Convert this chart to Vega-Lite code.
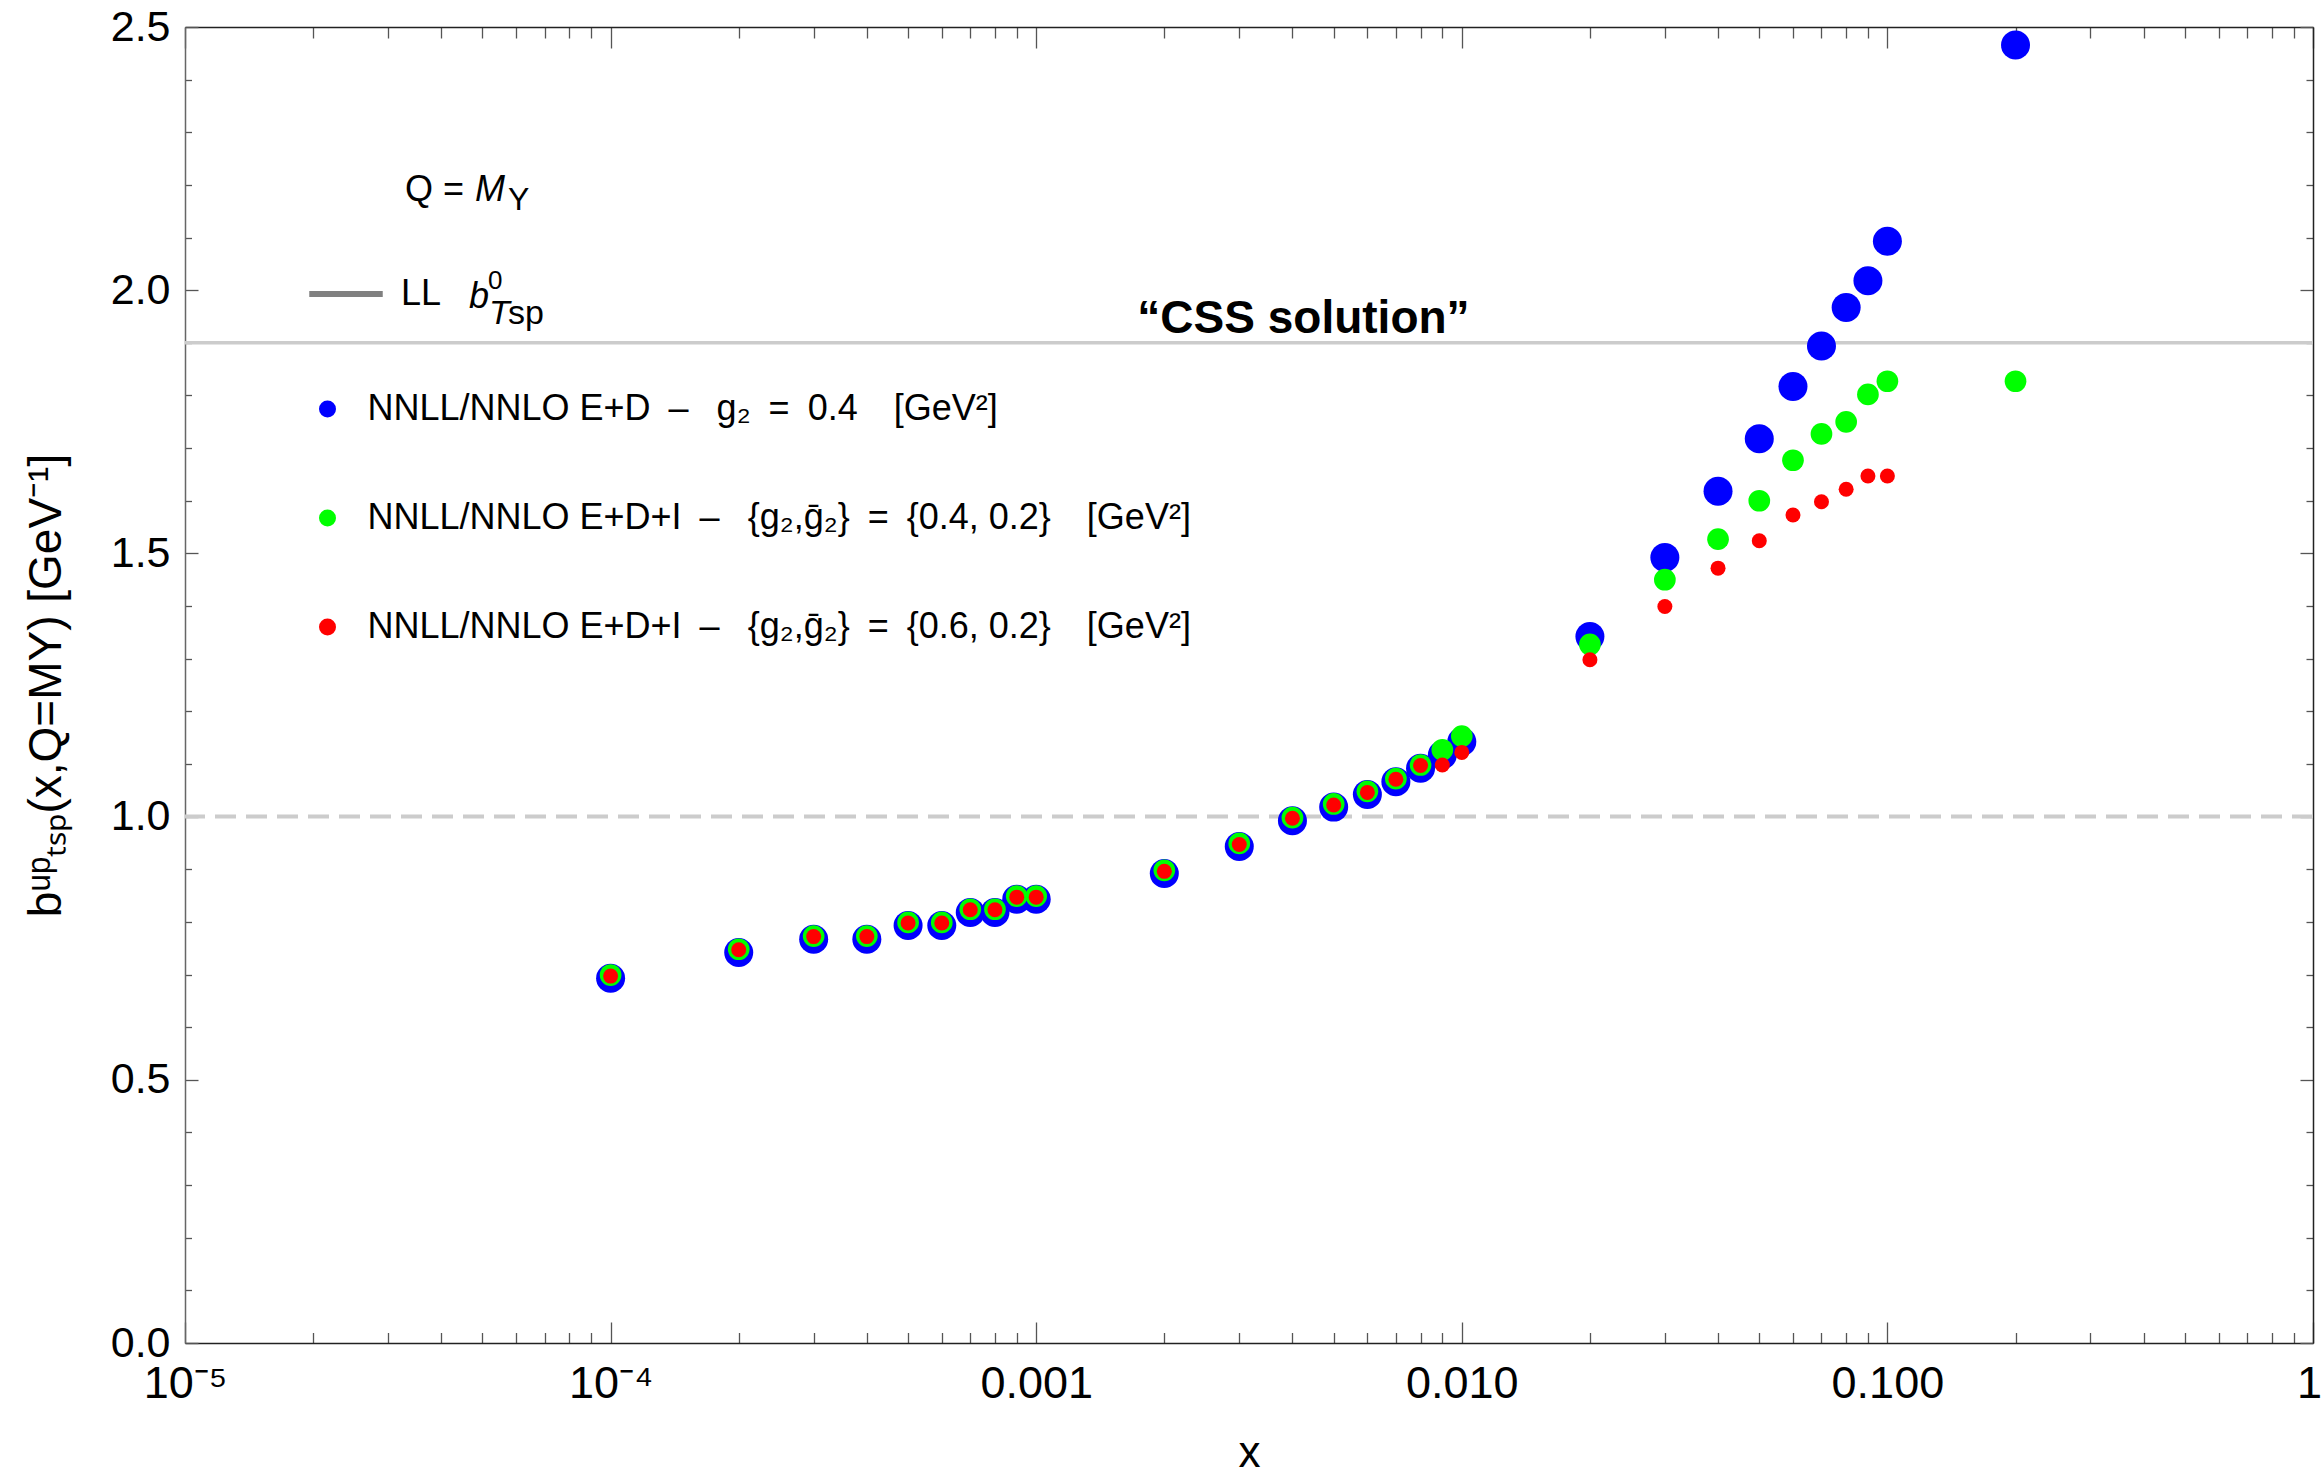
{
  "$schema": "https://vega.github.io/schema/vega-lite/v6.json",
  "width": 2128,
  "height": 1316,
  "autosize": {"type": "none"},
  "padding": {"left": 185, "top": 27, "right": 9, "bottom": 138},
  "background": "white",
  "config": {
    "view": {"stroke": null},
    "font": "Liberation Sans",
    "axis": {"grid": false, "domainColor": "#222", "domainWidth": 1.5, "tickColor": "#555", "tickWidth": 1.3, "labelFont": "Liberation Sans", "titleFont": "Liberation Sans", "labelColor": "#000", "titleColor": "#000", "titleFontWeight": "normal"},
    "legend": {"labelFont": "Liberation Sans", "labelColor": "#000", "padding": 0, "labelLimit": 0}
  },
  "datasets": {
    "pts": [
      {"x": 0.0001, "b": 0.693, "series": "ED"}, {"x": 0.0002, "b": 0.742, "series": "ED"}, {"x": 0.0003, "b": 0.767, "series": "ED"}, {"x": 0.0004, "b": 0.767, "series": "ED"}, {"x": 0.0005, "b": 0.793, "series": "ED"}, {"x": 0.0006, "b": 0.793, "series": "ED"}, {"x": 0.0007, "b": 0.818, "series": "ED"}, {"x": 0.0008, "b": 0.818, "series": "ED"}, {"x": 0.0009, "b": 0.843, "series": "ED"}, {"x": 0.001, "b": 0.843, "series": "ED"},
      {"x": 0.002, "b": 0.892, "series": "ED"}, {"x": 0.003, "b": 0.943, "series": "ED"}, {"x": 0.004, "b": 0.992, "series": "ED"}, {"x": 0.005, "b": 1.018, "series": "ED"}, {"x": 0.006, "b": 1.042, "series": "ED"}, {"x": 0.007, "b": 1.066, "series": "ED"}, {"x": 0.008, "b": 1.092, "series": "ED"}, {"x": 0.009, "b": 1.117, "series": "ED"}, {"x": 0.01, "b": 1.142, "series": "ED"},
      {"x": 0.02, "b": 1.342, "series": "ED"}, {"x": 0.03, "b": 1.492, "series": "ED"}, {"x": 0.04, "b": 1.618, "series": "ED"}, {"x": 0.05, "b": 1.718, "series": "ED"}, {"x": 0.06, "b": 1.817, "series": "ED"}, {"x": 0.07, "b": 1.894, "series": "ED"}, {"x": 0.08, "b": 1.967, "series": "ED"}, {"x": 0.09, "b": 2.018, "series": "ED"}, {"x": 0.1, "b": 2.093, "series": "ED"}, {"x": 0.2, "b": 2.466, "series": "ED"},
      {"x": 0.0001, "b": 0.699, "series": "EDI1"}, {"x": 0.0002, "b": 0.748, "series": "EDI1"}, {"x": 0.0003, "b": 0.773, "series": "EDI1"}, {"x": 0.0004, "b": 0.773, "series": "EDI1"}, {"x": 0.0005, "b": 0.799, "series": "EDI1"}, {"x": 0.0006, "b": 0.799, "series": "EDI1"}, {"x": 0.0007, "b": 0.824, "series": "EDI1"}, {"x": 0.0008, "b": 0.824, "series": "EDI1"}, {"x": 0.0009, "b": 0.849, "series": "EDI1"}, {"x": 0.001, "b": 0.849, "series": "EDI1"},
      {"x": 0.002, "b": 0.898, "series": "EDI1"}, {"x": 0.003, "b": 0.949, "series": "EDI1"}, {"x": 0.004, "b": 0.998, "series": "EDI1"}, {"x": 0.005, "b": 1.024, "series": "EDI1"}, {"x": 0.006, "b": 1.048, "series": "EDI1"}, {"x": 0.007, "b": 1.072, "series": "EDI1"}, {"x": 0.008, "b": 1.098, "series": "EDI1"}, {"x": 0.009, "b": 1.127, "series": "EDI1"}, {"x": 0.01, "b": 1.153, "series": "EDI1"},
      {"x": 0.02, "b": 1.327, "series": "EDI1"}, {"x": 0.03, "b": 1.450, "series": "EDI1"}, {"x": 0.04, "b": 1.527, "series": "EDI1"}, {"x": 0.05, "b": 1.600, "series": "EDI1"}, {"x": 0.06, "b": 1.677, "series": "EDI1"}, {"x": 0.07, "b": 1.727, "series": "EDI1"}, {"x": 0.08, "b": 1.750, "series": "EDI1"}, {"x": 0.09, "b": 1.802, "series": "EDI1"}, {"x": 0.1, "b": 1.827, "series": "EDI1"}, {"x": 0.2, "b": 1.827, "series": "EDI1"},
      {"x": 0.0001, "b": 0.697, "series": "EDI2"}, {"x": 0.0002, "b": 0.747, "series": "EDI2"}, {"x": 0.0003, "b": 0.772, "series": "EDI2"}, {"x": 0.0004, "b": 0.772, "series": "EDI2"}, {"x": 0.0005, "b": 0.798, "series": "EDI2"}, {"x": 0.0006, "b": 0.798, "series": "EDI2"}, {"x": 0.0007, "b": 0.823, "series": "EDI2"}, {"x": 0.0008, "b": 0.823, "series": "EDI2"}, {"x": 0.0009, "b": 0.847, "series": "EDI2"}, {"x": 0.001, "b": 0.847, "series": "EDI2"},
      {"x": 0.002, "b": 0.896, "series": "EDI2"}, {"x": 0.003, "b": 0.947, "series": "EDI2"}, {"x": 0.004, "b": 0.997, "series": "EDI2"}, {"x": 0.005, "b": 1.022, "series": "EDI2"}, {"x": 0.006, "b": 1.046, "series": "EDI2"}, {"x": 0.007, "b": 1.071, "series": "EDI2"}, {"x": 0.008, "b": 1.097, "series": "EDI2"}, {"x": 0.009, "b": 1.098, "series": "EDI2"}, {"x": 0.01, "b": 1.122, "series": "EDI2"},
      {"x": 0.02, "b": 1.298, "series": "EDI2"}, {"x": 0.03, "b": 1.399, "series": "EDI2"}, {"x": 0.04, "b": 1.472, "series": "EDI2"}, {"x": 0.05, "b": 1.524, "series": "EDI2"}, {"x": 0.06, "b": 1.573, "series": "EDI2"}, {"x": 0.07, "b": 1.598, "series": "EDI2"}, {"x": 0.08, "b": 1.622, "series": "EDI2"}, {"x": 0.09, "b": 1.647, "series": "EDI2"}, {"x": 0.1, "b": 1.647, "series": "EDI2"}
    ],
    "ann": [
      {"id": "q", "x": 0.0000329, "y": 2.170, "t": "Q ="},
      {"id": "m", "x": 0.0000329, "y": 2.170, "t": "M"},
      {"id": "u", "x": 0.0000329, "y": 2.170, "t": "Υ"},
      {"id": "b", "x": 0.0000329, "y": 1.967, "t": "b"},
      {"id": "z", "x": 0.0000329, "y": 1.967, "t": "0"},
      {"id": "T", "x": 0.0000329, "y": 1.967, "t": "T"},
      {"id": "sp", "x": 0.0000329, "y": 1.967, "t": "sp"},
      {"id": "css", "x": 0.004246, "y": 1.919, "t": "“CSS solution”"}
    ]
  },
  "layer": [
    {
      "data": {"values": [{"y": 1.0}]},
      "mark": {"type": "rule", "stroke": "#cccccc", "strokeWidth": 4, "strokeDash": [21, 10]},
      "encoding": {"y": {"field": "y", "type": "quantitative", "scale": {"domain": [0, 2.5], "nice": false, "zero": false}, "axis": null}}
    },
    {
      "data": {"values": [{"y": 1.9}]},
      "mark": {"type": "rule", "stroke": "#cccccc", "strokeWidth": 3.5},
      "encoding": {
        "y": {"field": "y", "type": "quantitative", "scale": {"domain": [0, 2.5], "nice": false, "zero": false}, "axis": null}
      }
    },
    {
      "data": {"values": [{"y": 1.9, "x": 0.001, "line": "LL"}]},
      "mark": {"type": "rule", "strokeWidth": 6, "strokeCap": "butt"},
      "encoding": {
        "x": {"field": "x", "type": "quantitative", "scale": {"type": "log", "domain": [0.00001, 1], "nice": false}, "axis": null},
        "x2": {"field": "x"},
        "y": {"field": "y", "type": "quantitative", "scale": {"domain": [0, 2.5], "nice": false, "zero": false}, "axis": null},
        "stroke": {"field": "line", "type": "nominal", "scale": {"range": ["#808080"]},
          "legend": {"title": null, "orient": "none", "legendX": 121, "legendY": 227, "symbolType": "stroke", "symbolSize": 5400, "symbolStrokeWidth": 6, "labelFontSize": 36, "labelOffset": 15, "padding": 0}}
      }
    },
    {
      "data": {"name": "pts"},
      "encoding": {
        "x": {"field": "x", "type": "quantitative", "scale": {"type": "log", "domain": [0.00001, 1], "nice": false},
          "axis": {"orient": "bottom",
            "values": [0.00001,0.00002,0.00003,0.00004,0.00005,0.00006,0.00007,0.00008,0.00009,0.0001,0.0002,0.0003,0.0004,0.0005,0.0006,0.0007,0.0008,0.0009,0.001,0.002,0.003,0.004,0.005,0.006,0.007,0.008,0.009,0.01,0.02,0.03,0.04,0.05,0.06,0.07,0.08,0.09,0.1,0.2,0.3,0.4,0.5,0.6,0.7,0.8,0.9,1],
            "labelExpr": "abs(datum.value-0.00001)<1e-8 ? '10⁻⁵' : abs(datum.value-0.0001)<1e-8 ? '10⁻⁴' : abs(datum.value-0.001)<1e-7 ? '0.001' : abs(datum.value-0.01)<1e-6 ? '0.010' : abs(datum.value-0.1)<1e-5 ? '0.100' : abs(datum.value-1)<1e-4 ? '1' : ''",
            "labelFontSize": 45, "labelPadding": 39, "labelFlush": false, "labelOverlap": false,
            "labelOffset": {"condition": {"test": "datum.value > 0.95", "value": -4}, "value": 0},
            "tickSize": {"condition": {"test": "abs(log(datum.value)/LN10 - round(log(datum.value)/LN10)) < 0.01", "value": -21}, "value": -10.5},
            "title": "x", "titleFontSize": 44, "titlePadding": 15, "domainColor": "#222"}},
        "y": {"field": "b", "type": "quantitative", "scale": {"domain": [0, 2.5], "nice": false, "zero": false},
          "axis": {"orient": "left",
            "values": [0,0.1,0.2,0.3,0.4,0.5,0.6,0.7,0.8,0.9,1,1.1,1.2,1.3,1.4,1.5,1.6,1.7,1.8,1.9,2,2.1,2.2,2.3,2.4,2.5],
            "labelExpr": "abs(datum.value*2 - round(datum.value*2)) < 0.01 ? format(datum.value, '.1f') : ''",
            "labelFontSize": 43, "labelPadding": 28, "labelFlush": false, "labelOverlap": false,
            "tickSize": {"condition": {"test": "abs(datum.value*2 - round(datum.value*2)) < 0.01", "value": -13}, "value": -6.5},
            "title": "bᵘᵖₜₛₚ(x,Q=MΥ) [GeV⁻¹]", "titleFontSize": 46, "titlePadding": 40, "domainColor": "#666"}},
        "color": {"field": "series", "type": "nominal", "scale": {"domain": ["ED", "EDI1", "EDI2"], "range": ["#0000ff", "#00ff00", "#ff0000"]},
          "legend": {"title": null, "orient": "none", "legendX": 124.5, "legendY": 364, "direction": "vertical", "symbolType": "circle", "symbolSize": 289, "symbolStrokeWidth": 0, "symbolOpacity": 1, "labelFontSize": 36, "labelOffset": 22, "rowPadding": 73, "padding": 0,
            "labelExpr": "datum.label == 'ED' ? 'NNLL/NNLO E+D\u2002\u2013\u2002 g\u2082\u2002=\u20020.4\u2002\u2002[GeV\u00b2]' : datum.label == 'EDI1' ? 'NNLL/NNLO E+D+I\u2002\u2013\u2002 {g\u2082,\u1e21\u2082}\u2002=\u2002{0.4, 0.2}\u2002\u2002[GeV\u00b2]' : 'NNLL/NNLO E+D+I\u2002\u2013\u2002 {g\u2082,\u1e21\u2082}\u2002=\u2002{0.6, 0.2}\u2002\u2002[GeV\u00b2]'"}}
      },
      "layer": [
        {"transform": [{"filter": "datum.series == 'ED'"}], "mark": {"type": "circle", "size": 841, "opacity": 1}},
        {"transform": [{"filter": "datum.series == 'EDI1'"}], "mark": {"type": "circle", "size": 471, "opacity": 1}},
        {"transform": [{"filter": "datum.series == 'EDI2'"}], "mark": {"type": "circle", "size": 225, "opacity": 1}}
      ]
    },
    {
      "data": {"name": "ann"},
      "encoding": {
        "x": {"field": "x", "type": "quantitative", "scale": {"type": "log", "domain": [0.00001, 1], "nice": false},
          "axis": {"orient": "top", "labels": false, "title": null, "domainColor": "#222",
            "values": [0.00001,0.00002,0.00003,0.00004,0.00005,0.00006,0.00007,0.00008,0.00009,0.0001,0.0002,0.0003,0.0004,0.0005,0.0006,0.0007,0.0008,0.0009,0.001,0.002,0.003,0.004,0.005,0.006,0.007,0.008,0.009,0.01,0.02,0.03,0.04,0.05,0.06,0.07,0.08,0.09,0.1,0.2,0.3,0.4,0.5,0.6,0.7,0.8,0.9,1],
            "tickSize": {"condition": {"test": "abs(log(datum.value)/LN10 - round(log(datum.value)/LN10)) < 0.01", "value": -21}, "value": -11}}},
        "y": {"field": "y", "type": "quantitative", "scale": {"domain": [0, 2.5], "nice": false, "zero": false},
          "axis": {"orient": "right", "labels": false, "title": null, "domainColor": "#222",
            "values": [0,0.1,0.2,0.3,0.4,0.5,0.6,0.7,0.8,0.9,1,1.1,1.2,1.3,1.4,1.5,1.6,1.7,1.8,1.9,2,2.1,2.2,2.3,2.4,2.5],
            "tickSize": {"condition": {"test": "abs(datum.value*2 - round(datum.value*2)) < 0.01", "value": -13}, "value": -7}}},
        "text": {"field": "t"}
      },
      "layer": [
        {"transform": [{"filter": "datum.id == 'q'"}], "mark": {"type": "text", "align": "left", "baseline": "alphabetic", "fontSize": 36, "font": "Liberation Sans", "color": "#000"}},
        {"transform": [{"filter": "datum.id == 'm'"}], "mark": {"type": "text", "align": "left", "baseline": "alphabetic", "fontSize": 36, "fontStyle": "italic", "font": "Liberation Sans", "dx": 70, "color": "#000"}},
        {"transform": [{"filter": "datum.id == 'u'"}], "mark": {"type": "text", "align": "left", "baseline": "alphabetic", "fontSize": 32, "font": "Liberation Sans", "dx": 103, "dy": 9, "color": "#000"}},
        {"transform": [{"filter": "datum.id == 'b'"}], "mark": {"type": "text", "align": "left", "baseline": "alphabetic", "fontSize": 36, "fontStyle": "italic", "font": "Liberation Sans", "dx": 64, "color": "#000"}},
        {"transform": [{"filter": "datum.id == 'z'"}], "mark": {"type": "text", "align": "left", "baseline": "alphabetic", "fontSize": 26, "font": "Liberation Sans", "dx": 83, "dy": -19, "color": "#000"}},
        {"transform": [{"filter": "datum.id == 'T'"}], "mark": {"type": "text", "align": "left", "baseline": "alphabetic", "fontSize": 34, "fontStyle": "italic", "font": "Liberation Sans", "dx": 84, "dy": 16, "color": "#000"}},
        {"transform": [{"filter": "datum.id == 'sp'"}], "mark": {"type": "text", "align": "left", "baseline": "alphabetic", "fontSize": 34, "font": "Liberation Sans", "dx": 103, "dy": 16, "color": "#000"}},
        {"transform": [{"filter": "datum.id == 'css'"}], "mark": {"type": "text", "align": "center", "baseline": "alphabetic", "fontSize": 46, "fontWeight": "bold", "font": "Liberation Sans", "color": "#000"}}
      ]
    }
  ],
  "resolve": {"axis": {"x": "independent", "y": "independent"}}
}
